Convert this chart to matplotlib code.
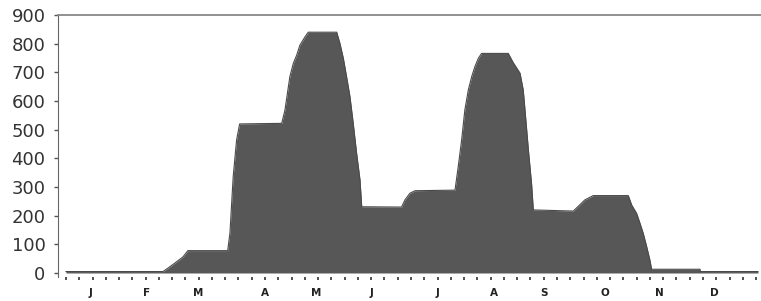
import matplotlib.pyplot as plt
import numpy as np

# day of year -> value
days = [0, 51.2, 53.8, 57.5, 61.7, 64.3, 85.3, 86.5, 88.2, 90, 91.6,
        113.8, 115.5, 118.1, 119.9, 121.7, 123.4, 126.1, 127.8, 142.8,
        144.5, 146.3, 148, 149.8, 151.5, 153.3, 155.1, 156, 177,
        178.8, 181.4, 184.1, 205.2, 206.9, 208.7, 210.4, 212.2, 214,
        215.7, 217.5, 219.2, 233.3, 235.8, 239.5, 241.2, 242.1, 243.9,
        245.6, 246.5, 267.6, 273.7, 278.1, 296.6, 298.4, 301, 302.8,
        304.5, 306.3, 308, 308.9, 334.4, 334.6, 365]
values = [5, 5, 17, 35, 56, 78, 78, 140, 336, 464, 520,
          522, 568, 685, 731, 760, 795, 824, 840, 840,
          801, 749, 685, 615, 523, 418, 324, 231, 230,
          255, 278, 287, 289, 371, 464, 569, 638, 685,
          720, 749, 766, 766, 735, 697, 638, 570, 430,
          310, 220, 216, 255, 270, 270, 237, 208, 173,
          138, 92, 45, 13, 13, 5, 5]

months = ['J', 'F', 'M', 'A', 'M', 'J', 'J', 'A', 'S', 'O', 'N', 'D']
month_pos = [12.7, 42.7, 69.6, 105, 132, 161, 196, 226, 252, 284, 313, 342]
yticks = [0, 100, 200, 300, 400, 500, 600, 700, 800, 900]

fig = plt.figure(figsize=(7.61, 3.01), dpi=100)
ax = fig.add_axes([58 / 761, 1 - 277 / 301, 1 - 58 / 761, 262 / 301])

ax.fill_between(days, values, 0, color='#575757', linewidth=0)
ax.plot(days, values, color='#4a4a4a', linewidth=0.8)

ax.set_xlim(-4.2, 366.6)
ax.set_ylim(-14, 900)

ax.set_yticks(yticks)
ax.tick_params(axis='y', length=3, width=1, color='#555555', pad=6,
               labelsize=13, labelcolor='#333333')

# weekly tick marks, month letters in between
ax.xaxis.remove_overlapping_locs = False
ax.set_xticks(np.arange(0, 366, 7))
ax.tick_params(axis='x', which='major', length=2.5, width=1.2,
               color='#333333', labelbottom=False)
ax.set_xticks(month_pos, months, minor=True)
ax.tick_params(axis='x', which='minor', length=0, pad=8,
               labelsize=7.5, labelcolor='#222222')
for lab in ax.get_xticklabels(minor=True):
    lab.set_fontweight('bold')

for s in ['right', 'bottom']:
    ax.spines[s].set_visible(False)
ax.spines['left'].set_color('#666666')
ax.spines['top'].set_color('#888888')
ax.spines['top'].set_linewidth(1.3)

fig.savefig('out.png', dpi=100)
